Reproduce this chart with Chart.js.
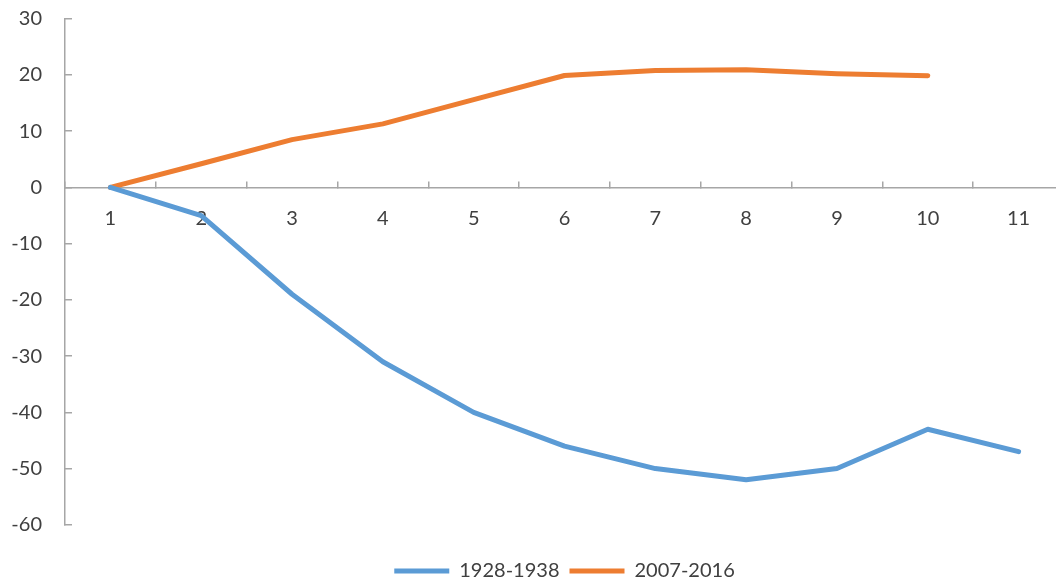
<!DOCTYPE html>
<html>
<head>
<meta charset="utf-8">
<script src="https://cdn.jsdelivr.net/npm/chart.js@4/dist/chart.umd.min.js"></script>
<style>
  html, body { margin: 0; padding: 0; background: #fff; overflow: hidden; }
  #wrap { position: absolute; left: 0; top: 0; width: 1070px; height: 580px; }
</style>
</head>
<body>
<div id="wrap"><canvas id="lineChart"></canvas></div>
<script>
// categories and series
const years = ['1', '2', '3', '4', '5', '6', '7', '8', '9', '10', '11'];
const series1928 = [0, -5, -19, -31, -40, -46, -50, -52, -50, -43, -47];
const series2007 = [0, 4.2, 8.5, 11.3, 15.6, 19.9, 20.8, 20.9, 20.2, 19.85, null];

const axisGrey = '#A6A6A6';
const textGrey = '#404040';
Chart.defaults.font.family = 'Lato, "Open Sans", sans-serif';
Chart.defaults.font.size = 20;
Chart.defaults.color = textGrey;

const ctx = document.getElementById('lineChart');
const myChart = new Chart(ctx, {
  type: 'line',
  data: {
    labels: years,
    datasets: [{
      label: '1928-1938',
      data: series1928,
      borderColor: '#5B9BD5',
      backgroundColor: '#5B9BD5',
      borderWidth: 5,
      borderCapStyle: 'round',
      borderJoinStyle: 'round',
      pointRadius: 0,
      tension: 0
    }, {
      label: '2007-2016',
      data: series2007,
      borderColor: '#ED7D31',
      backgroundColor: '#ED7D31',
      borderWidth: 5,
      borderCapStyle: 'round',
      borderJoinStyle: 'round',
      pointRadius: 0,
      tension: 0
    }]
  },
  options: {
    responsive: true,
    maintainAspectRatio: false,
    animation: false,
    layout: {
      padding: { left: 0, right: 6, top: 18.7, bottom: -11 }
    },
    plugins: {
      tooltip: { enabled: false },
      legend: {
        position: 'bottom',
        fullSize: false,
        // empty title only used as spacer between the plot and the legend
        title: { display: true, text: ' ', font: { size: 1 }, padding: { top: 25, bottom: 0 } },
        labels: {
          usePointStyle: true,
          pointStyle: 'line',
          pointStyleWidth: 55,
          padding: 10,
          color: textGrey
        }
      }
    },
    scales: {
      x: {
        position: { y: 0 },
        offset: true,
        grid: {
          offset: true,
          drawOnChartArea: false,
          tickLength: -7,
          color: axisGrey,
          lineWidth: 1.5
        },
        border: { color: axisGrey, width: 1.5 },
        ticks: { padding: 26, color: textGrey, maxRotation: 0, autoSkip: false }
      },
      y: {
        min: -60,
        max: 30,
        afterFit: function(scale) {
          scale.width = 65;
          scale.paddingTop = 0;
          scale.paddingBottom = 0;
        },
        grid: {
          drawOnChartArea: false,
          tickLength: -7,
          color: axisGrey,
          lineWidth: 1.5
        },
        border: { color: axisGrey, width: 1.5 },
        ticks: { stepSize: 10, padding: 30, color: textGrey }
      }
    }
  }
});
</script>
</body>
</html>
